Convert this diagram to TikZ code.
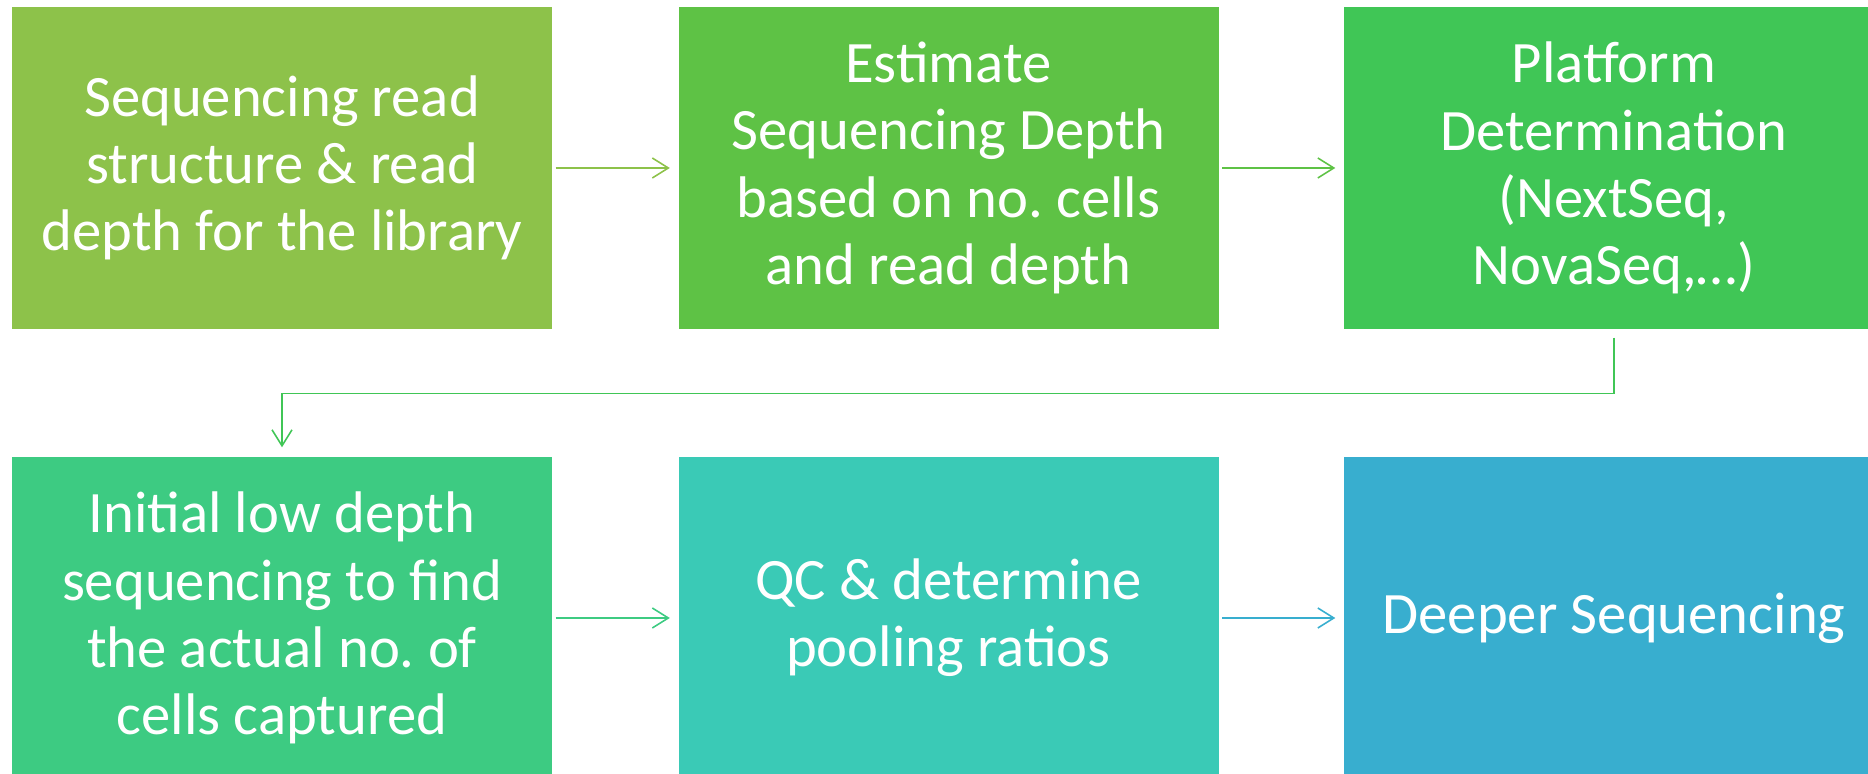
\documentclass[tikz,border=0pt]{standalone}
\usepackage{fontspec}
\setmainfont{Carlito}
\usetikzlibrary{arrows.meta}
\frenchspacing

\definecolor{stepA}{HTML}{8DC24A}
\definecolor{stepB}{HTML}{5EC245}
\definecolor{stepC}{HTML}{40C656}
\definecolor{stepD}{HTML}{3DCB82}
\definecolor{stepE}{HTML}{3ACAB6}
\definecolor{stepF}{HTML}{38AECF}

\begin{document}
\begin{tikzpicture}[
  stepbox/.style={rectangle, minimum width=5.4cm, minimum height=3.22cm, align=center, text=white, inner sep=0pt,
    font=\fontsize{16.7pt}{19.1pt}\selectfont},
  flow/.style={-{Straight Barb[length=0.16cm, width=0.2cm]}, line width=0.45pt, shorten <=0.03cm, shorten >=0.08cm}
]
  \clip (0,0) rectangle (18.68,7.74);

  % Top row
  \node[stepbox, fill=stepA] (readstruct) at (2.82,6.06) {Sequencing read\\structure \& read\\depth for the library};
  \node[stepbox, fill=stepB] (estdepth) at (9.485,6.06) {Estimate\\Sequencing Depth\\based on no. cells\\and read depth};
  \node[stepbox, fill=stepC] (platform) at (16.14,6.06) {Platform\\Determination\\(NextSeq,\\NovaSeq,…)};

  % Bottom row
  \node[stepbox, fill=stepD] (lowdepth) at (2.82,1.56) {Initial low depth\\sequencing to find\\the actual no. of\\cells captured};
  \node[stepbox, fill=stepE] (qcpool) at (9.485,1.56) {QC \& determine\\pooling ratios};
  \node[stepbox, fill=stepF] (deeper) at (16.14,1.56) {Deeper Sequencing};

  % Arrows
  \draw[flow, stepA] (readstruct.east) -- (estdepth.west);
  \draw[flow, stepB] (estdepth.east) -- (platform.west);
  \draw[flow, stepC, shorten <=0.08cm, shorten >=0.09cm] (platform.south) -- ++(0,-0.64) -| (lowdepth.north);
  \draw[flow, stepD] (lowdepth.east) -- (qcpool.west);
  \draw[flow, stepF] (qcpool.east) -- (deeper.west);
\end{tikzpicture}
\end{document}
